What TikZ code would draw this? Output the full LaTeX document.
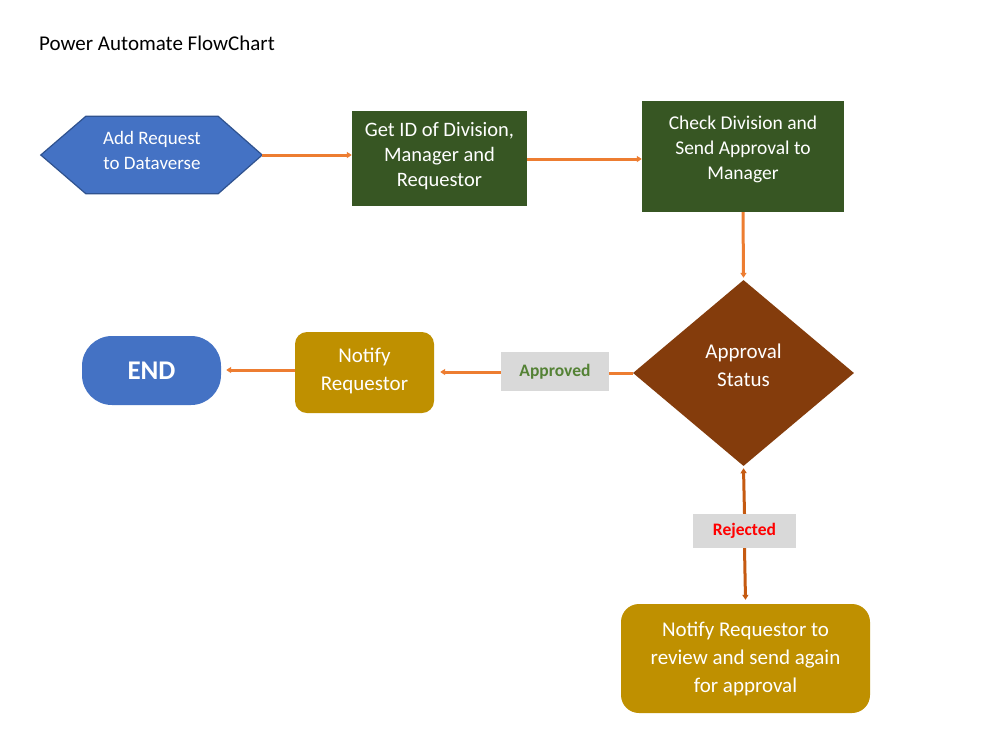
\documentclass[tikz,border=0pt]{standalone}
\usepackage{fontspec}
\setmainfont{Carlito}
\usetikzlibrary{arrows.meta,shapes.geometric,calc}
\definecolor{blu}{HTML}{4472C4}
\definecolor{bluedge}{HTML}{2F528F}
\definecolor{dkgreen}{HTML}{375623}
\definecolor{brn}{HTML}{843C0C}
\definecolor{gold}{HTML}{BF9000}
\definecolor{orng}{HTML}{ED7D31}
\definecolor{rejline}{HTML}{C55A11}
\definecolor{lgray}{HTML}{D9D9D9}
\definecolor{apgreen}{HTML}{548235}
\begin{document}
\begin{tikzpicture}[x=1pt,y=-1pt,
  shapebox/.style={draw=none, inner sep=0pt},
  greenbox/.style={shapebox, fill=dkgreen},
  goldbox/.style={shapebox, fill=gold},
  txt/.style={text=white, align=center, inner sep=0pt, font=\fontsize{20}{25}\selectfont},
  bigtxt/.style={text=white, align=center, inner sep=0pt, font=\fontsize{21}{28}\selectfont},
  tag/.style={fill=lgray, inner sep=0pt, font=\bfseries\fontsize{17.5}{19}\selectfont},
  flow/.style={draw=orng, line width=3pt, -{Triangle[length=5pt,width=6pt]}}
]
\useasboundingbox (0,0) rectangle (1001,732);
\fill[white] (0,0) rectangle (1001,732);

\node[anchor=west, inner sep=0pt, font=\fontsize{21}{24}\selectfont] (title) at (39,43) {Power Automate FlowChart};

% hexagon
\node[shapebox, minimum width=132pt, minimum height=77pt] (hex) at (152,155) {};
\coordinate (hexL) at ($(hex.west)+(-45,0)$);
\coordinate (hexR) at ($(hex.east)+(44,0)$);
\draw[fill=blu, draw=bluedge, line width=1.2pt] (hex.north west) -- (hex.north east) -- (hexR) -- (hex.south east) -- (hex.south west) -- (hexL) -- cycle;
\node[txt, font=\fontsize{19}{25}\selectfont] (hext) at (152,150) {Add Request\\to Dataverse};

% green boxes
\node[greenbox, minimum width=175pt, minimum height=95pt] (b1) at (439.5,158.5) {};
\node[txt, font=\fontsize{20.5}{25}\selectfont] (b1t) at (439.5,156) {Get ID of Division,\\Manager and\\Requestor};
\node[greenbox, minimum width=202pt, minimum height=111pt] (b2) at (743,156.5) {};
\node[txt, font=\fontsize{19.5}{25}\selectfont] (b2t) at (743,149) {Check Division and\\Send Approval to\\Manager};

% diamond
\node[diamond, fill=brn, inner sep=0pt, minimum width=221pt, minimum height=186pt] (dia) at (743.5,373) {};
\node[bigtxt] (diat) at (743.5,365) {Approval\\Status};

% notify requestor
\node[goldbox, rounded corners=12pt, minimum width=139pt, minimum height=81pt] (n1) at (364.5,372.5) {};
\node[bigtxt] (n1t) at (364.5,371) {Notify\\Requestor};

% END
\node[shapebox, fill=blu, rounded corners=30pt, minimum width=139pt, minimum height=69pt, text=white, font=\bfseries\fontsize{27}{30}\selectfont] (endn) at (151.5,370.5) {END};

% notify 2
\node[goldbox, rounded corners=18pt, minimum width=249pt, minimum height=109pt] (n2) at (745.5,658.5) {};
\node[bigtxt] (n2t) at (745.5,659) {Notify Requestor to\\review and send again\\for approval};

% tags
\node[tag, minimum width=108pt, minimum height=39pt, text=apgreen] (appr) at (555,371.5) {Approved};
\node[tag, minimum width=103pt, minimum height=34pt, text=red] (rej) at (744.5,531) {Rejected};

% connectors
\draw[flow] (hexR) -- (hexR -| b1.west);
\draw[flow] (b1.east |- 0,159) -- (b2.west |- 0,159);
\draw[flow] (b2.south) -- ($(dia.north)+(0,-2)$);
\draw[draw=orng, line width=3pt] (dia.west) -- (dia.west -| appr.east);
\draw[flow] (appr.west |- 0,372) -- ($(n1.east |- 0,372)+(6,0)$);
\draw[flow] (n1.west |- 0,370) -- ($(endn.east |- 0,370)+(5,0)$);
\draw[draw=rejline, line width=3pt, {Triangle[length=5pt,width=6pt]}-] ($(dia.south)+(0,2)$) -- (rej.north);
\draw[draw=rejline, line width=3pt, -{Triangle[length=5pt,width=6pt]}] (rej.south) -- ($(n2.north)+(0,-4)$);
\end{tikzpicture}
\end{document}
